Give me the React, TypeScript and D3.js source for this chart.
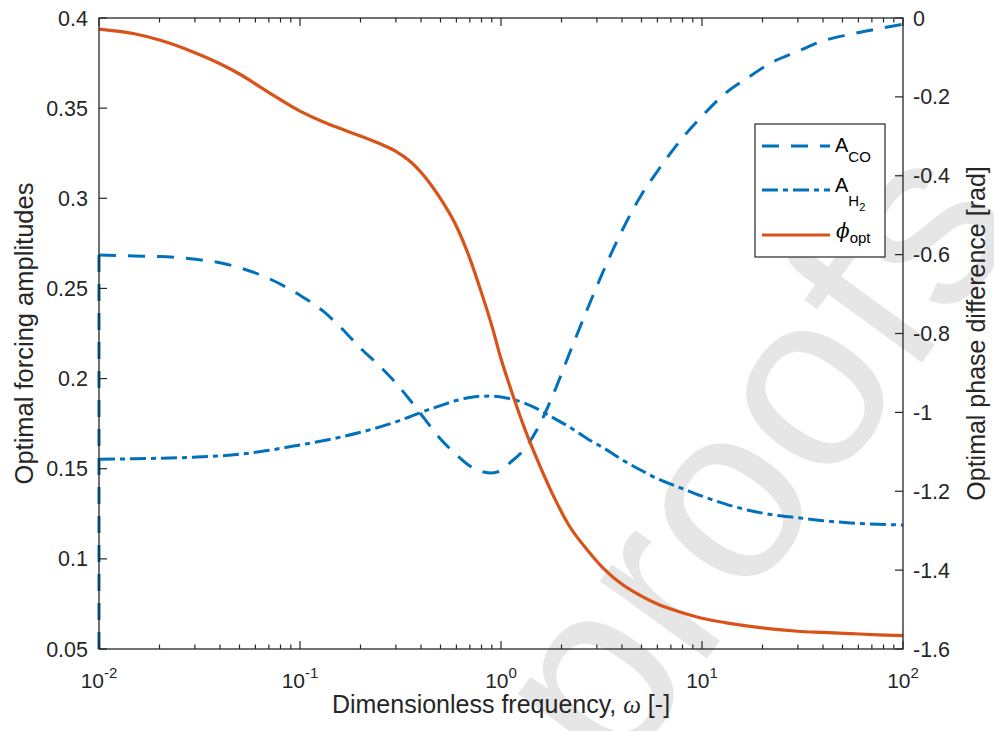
import { scaleLinear, scaleLog, line, curveMonotoneX } from 'd3'

// frequency grid (dimensionless) shared by all three curves
const omega = [
  0.01, 0.015, 0.02, 0.03, 0.04, 0.05, 0.07, 0.1, 0.13, 0.16, 0.2, 0.25, 0.3, 0.35, 0.4, 0.45, 0.5,
  0.6, 0.7, 0.8, 0.9, 1.0, 1.1, 1.3, 1.5, 1.8, 2.2, 2.7, 3.3, 4, 5, 6, 8, 10, 13, 17, 22, 30, 40, 55,
  75, 100,
]

const amplitudeCO = [
  0.2685, 0.268, 0.2677, 0.2662, 0.2642, 0.2615, 0.2555, 0.2462, 0.2375, 0.2282, 0.2168, 0.2068,
  0.1975, 0.1885, 0.1802, 0.1728, 0.1665, 0.1578, 0.1515, 0.1485, 0.1476, 0.149, 0.153, 0.1605,
  0.171, 0.19, 0.2145, 0.239, 0.262, 0.282, 0.302, 0.315, 0.3335, 0.3455, 0.358, 0.367, 0.375,
  0.3815, 0.3873, 0.391, 0.394, 0.3965,
]

// A_CO starts from the bottom of the axis at the first frequency
const amplitudeCOOnset = 0.05

const amplitudeH2 = [
  0.1553, 0.1555, 0.1558, 0.1564, 0.1571, 0.158, 0.1602, 0.1632, 0.1655, 0.1676, 0.1702, 0.1732,
  0.176, 0.1787, 0.1812, 0.1833, 0.185, 0.1878, 0.1895, 0.1902, 0.1903, 0.1898, 0.1889, 0.1865,
  0.1835, 0.1785, 0.173, 0.1665, 0.161, 0.155, 0.149, 0.1445, 0.139, 0.1348, 0.1305, 0.127, 0.1246,
  0.1228, 0.1212, 0.1199, 0.1192, 0.1188,
]

const phaseOpt = [
  -0.028, -0.04, -0.056, -0.088, -0.116, -0.142, -0.189, -0.236, -0.263, -0.281, -0.2995, -0.319,
  -0.338, -0.362, -0.391, -0.424, -0.458, -0.528, -0.61, -0.697, -0.78, -0.864, -0.93, -1.036,
  -1.115, -1.206, -1.29, -1.35, -1.4, -1.436, -1.466, -1.486, -1.508, -1.522, -1.533, -1.542,
  -1.549, -1.555, -1.558, -1.561, -1.564, -1.566,
]

const leftTicks = [0.05, 0.1, 0.15, 0.2, 0.25, 0.3, 0.35, 0.4]
const rightTicks = [-1.6, -1.4, -1.2, -1, -0.8, -0.6, -0.4, -0.2, 0]
const xMajorTicks = [0.01, 0.1, 1, 10, 100]
const xTickExponents = ['-2', '-1', '0', '1', '2']

const width = 994
const height = 731
const plot = { left: 99, right: 903, top: 18, bottom: 649 }

const blue = '#0072BD'
const orange = '#D95319'
const axisColor = '#262626'
const font = '"Liberation Sans", Arial, Helvetica, sans-serif'

type Pt = { w: number; v: number }

function App() {
  const x = scaleLog().domain([0.01, 100]).range([plot.left, plot.right])
  const yLeft = scaleLinear().domain([0.05, 0.4]).range([plot.bottom, plot.top])
  const yRight = scaleLinear().domain([-1.6, 0]).range([plot.bottom, plot.top])

  const minorTicks = x.ticks().filter((t) => !xMajorTicks.some((m) => Math.abs(m - t) < 1e-9))

  const leftLine = line<Pt>()
    .x((d) => x(d.w))
    .y((d) => yLeft(d.v))
    .curve(curveMonotoneX)
  const rightLine = line<Pt>()
    .x((d) => x(d.w))
    .y((d) => yRight(d.v))
    .curve(curveMonotoneX)

  const coPoints = omega.map((w, i) => ({ w, v: amplitudeCO[i] }))
  const h2Points = omega.map((w, i) => ({ w, v: amplitudeH2[i] }))
  const phiPoints = omega.map((w, i) => ({ w, v: phaseOpt[i] }))

  const majorLen = 8
  const minorLen = 4.5

  const legend = { x: 755, y: 124, w: 130, h: 133 }
  const sampleX1 = 762
  const sampleX2 = 830
  const rowY = [146, 190, 235]
  const midY = (plot.top + plot.bottom) / 2

  return (
    <svg
      width={width}
      height={height}
      viewBox={`0 0 ${width} ${height}`}
      style={{ position: 'absolute', left: 0, top: 0, background: '#fff' }}
      fontFamily={font}
    >
      <rect x={0} y={0} width={width} height={height} fill="#fff" />

      {/* watermark */}
      <text
        x={615}
        y={785}
        transform="rotate(-54 615 785)"
        fontSize={250}
        fill="#e6e6e6"
        fontFamily={font}
      >
        proofs
      </text>

      {/* curves */}
      <line
        x1={x(omega[0])}
        y1={yLeft(amplitudeCOOnset)}
        x2={x(omega[0])}
        y2={yLeft(amplitudeCO[0])}
        stroke={blue}
        strokeWidth={3}
        strokeDasharray="17 12"
      />
      <path
        d={leftLine(coPoints) ?? ''}
        fill="none"
        stroke={blue}
        strokeWidth={3}
        strokeDasharray="17 12"
      />
      <path
        d={leftLine(h2Points) ?? ''}
        fill="none"
        stroke={blue}
        strokeWidth={3}
        strokeDasharray="16 5 5 5"
      />
      <path d={rightLine(phiPoints) ?? ''} fill="none" stroke={orange} strokeWidth={3.2} />

      {/* box */}
      <rect
        x={plot.left}
        y={plot.top}
        width={plot.right - plot.left}
        height={plot.bottom - plot.top}
        fill="none"
        stroke={axisColor}
        strokeWidth={1.3}
      />

      {/* x ticks, bottom and top */}
      {xMajorTicks.map((t) => (
        <g key={`xM-${t}`} stroke={axisColor} strokeWidth={1.2}>
          <line x1={x(t)} x2={x(t)} y1={plot.bottom} y2={plot.bottom - majorLen} />
          <line x1={x(t)} x2={x(t)} y1={plot.top} y2={plot.top + majorLen} />
        </g>
      ))}
      {minorTicks.map((t) => (
        <g key={`xm-${t}`} stroke={axisColor} strokeWidth={1.2}>
          <line x1={x(t)} x2={x(t)} y1={plot.bottom} y2={plot.bottom - minorLen} />
          <line x1={x(t)} x2={x(t)} y1={plot.top} y2={plot.top + minorLen} />
        </g>
      ))}
      {xMajorTicks.map((t, i) => (
        <text key={`xl-${t}`} x={x(t)} y={688} textAnchor="middle" fontSize={21} fill={axisColor}>
          <tspan>10</tspan>
          <tspan dy={-10} fontSize={15}>
            {xTickExponents[i]}
          </tspan>
        </text>
      ))}

      {/* left axis */}
      {leftTicks.map((t) => (
        <g key={`yl-${t}`}>
          <line
            x1={plot.left}
            x2={plot.left + majorLen}
            y1={yLeft(t)}
            y2={yLeft(t)}
            stroke={axisColor}
            strokeWidth={1.2}
          />
          <text x={88} y={yLeft(t)} dy="0.35em" textAnchor="end" fontSize={21.5} fill={axisColor}>
            {t}
          </text>
        </g>
      ))}

      {/* right axis */}
      {rightTicks.map((t) => (
        <g key={`yr-${t}`}>
          <line
            x1={plot.right}
            x2={plot.right - majorLen}
            y1={yRight(t)}
            y2={yRight(t)}
            stroke={axisColor}
            strokeWidth={1.2}
          />
          <text x={913} y={yRight(t)} dy="0.35em" textAnchor="start" fontSize={21.5} fill={axisColor}>
            {t}
          </text>
        </g>
      ))}

      {/* axis titles */}
      <text x={501} y={713} textAnchor="middle" fontSize={25} fill={axisColor}>
        Dimensionless frequency,{' '}
        <tspan fontStyle="italic" fontFamily='"Liberation Serif", serif'>
          ω
        </tspan>{' '}
        [-]
      </text>
      <text
        transform={`translate(33, ${midY}) rotate(-90)`}
        textAnchor="middle"
        fontSize={25.5}
        fill={axisColor}
      >
        Optimal forcing amplitudes
      </text>
      <text
        transform={`translate(985, ${midY}) rotate(-90)`}
        textAnchor="middle"
        fontSize={25}
        fill={axisColor}
      >
        Optimal phase difference [rad]
      </text>

      {/* legend */}
      <rect
        x={legend.x}
        y={legend.y}
        width={legend.w}
        height={legend.h}
        fill="#fff"
        stroke={axisColor}
        strokeWidth={1.2}
      />
      <line
        x1={sampleX1}
        x2={sampleX2}
        y1={rowY[0]}
        y2={rowY[0]}
        stroke={blue}
        strokeWidth={3}
        strokeDasharray="17 12"
      />
      <line
        x1={sampleX1}
        x2={sampleX2}
        y1={rowY[1]}
        y2={rowY[1]}
        stroke={blue}
        strokeWidth={3}
        strokeDasharray="16 5 5 5"
      />
      <line x1={sampleX1} x2={sampleX2} y1={rowY[2]} y2={rowY[2]} stroke={orange} strokeWidth={3.2} />

      <text x={835} y={rowY[0] + 6} fontSize={20} fill="#000">
        A
        <tspan dy={10} fontSize={15}>
          CO
        </tspan>
      </text>
      <text x={835} y={rowY[1] + 2} fontSize={20} fill="#000">
        A
        <tspan dy={14} fontSize={15}>
          H
        </tspan>
        <tspan dy={5} fontSize={11}>
          2
        </tspan>
      </text>
      <text x={836} y={rowY[2] + 3} fontSize={20} fill="#000">
        <tspan fontStyle="italic" fontFamily='"DejaVu Serif", serif'>
          ϕ
        </tspan>
        <tspan dy={5} fontSize={15}>
          opt
        </tspan>
      </text>
    </svg>
  )
}

export default App
